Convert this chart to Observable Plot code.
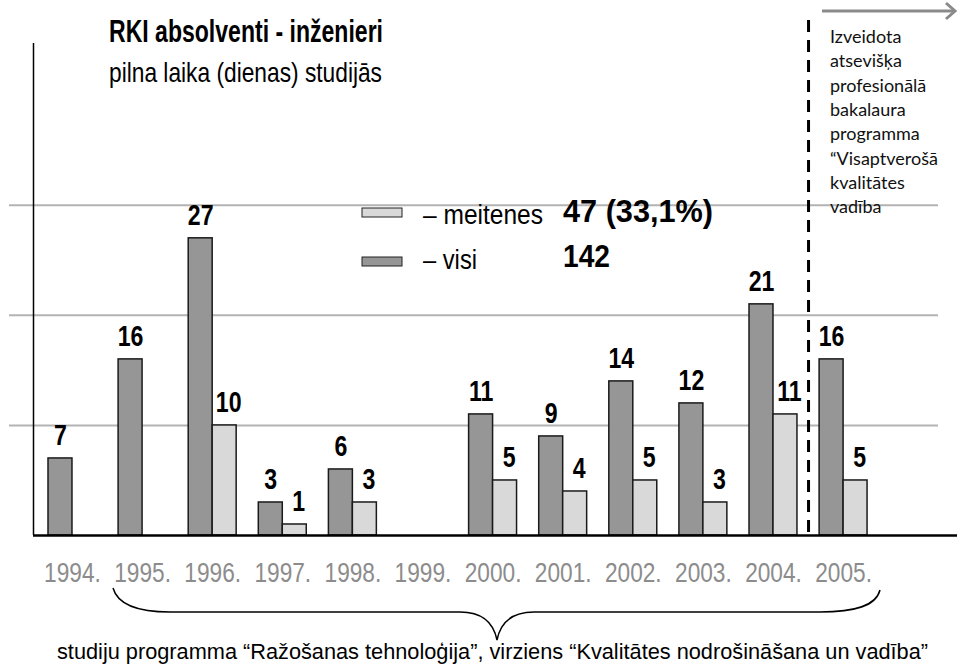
<!DOCTYPE html>
<html><head><meta charset="utf-8">
<script src="https://cdn.jsdelivr.net/npm/d3@7"></script>
<script src="https://cdn.jsdelivr.net/npm/@observablehq/plot@0.6"></script>
<style>
html,body{margin:0;padding:0;background:#fff;}
#wrap{position:relative;width:957px;height:671px;}
#wrap svg{position:absolute;left:0;top:0;}
</style></head><body>
<div id="wrap"></div>
<script>
// ---- data ----
const years = [1994, 1995, 1996, 1997, 1998, 1999, 2000, 2001, 2002, 2003, 2004, 2005];
const visi = [7, 16, 27, 3, 6, null, 11, 9, 14, 12, 21, 16];
const meitenes = [null, null, 10, 1, 3, null, 5, 4, 5, 3, 11, 5];
const yTicks = [10, 20, 30];
const divider = 2004.5;
const legendLabels = ["– meitenes", "– visi"];
const legendTotals = ["47 (33,1%)", "142"];
const titleText = "RKI absolventi - inženieri";
const subtitleText = "pilna laika (dienas) studijās";
const noteLines = ["Izveidota", "atsevišķa", "profesionālā", "bakalaura", "programma", "“Visaptverošā", "kvalitātes", "vadība"];
const captionText = "studiju programma “Ražošanas tehnoloģija”, virziens “Kvalitātes nodrošināšana un vadība”";

const data = years.map((year, i) => ({year, visi: visi[i], meitenes: meitenes[i]}));
const visiData = data.filter(d => d.visi != null);
const meitData = data.filter(d => d.meitenes != null);
const barW = 0.342;
const xDomain = [1993.444, 2006.625];
const sans = '"Liberation Sans", Arial, sans-serif';

const chart = Plot.plot({
  width: 957, height: 671,
  marginLeft: 33, marginRight: 0, marginTop: 43, marginBottom: 136,
  x: {type: "linear", domain: xDomain},
  y: {domain: [0, 44.7], axis: null},
  style: {background: "transparent", overflow: "visible"},
  marks: [
    Plot.ruleY(yTicks, {stroke: "#b3b3b3", strokeWidth: 2, insetLeft: -24, insetRight: 19}),
    Plot.rect(visiData, {x1: d => d.year - barW, x2: d => d.year, y1: () => 0, y2: "visi", fill: "#969696", stroke: "#1a1a1a", strokeWidth: 1.5}),
    Plot.rect(meitData, {x1: d => d.year, x2: d => d.year + barW, y1: () => 0, y2: "meitenes", fill: "#d9d9d9", stroke: "#1a1a1a", strokeWidth: 1.5}),
    Plot.ruleY([0], {stroke: "#000", strokeWidth: 2.5}),
    Plot.ruleX([xDomain[0]], {stroke: "#000", strokeWidth: 1.5}),
    Plot.ruleX([divider], {stroke: "#000", strokeWidth: 3, strokeDasharray: "12,8", insetTop: -23}),
    Plot.text(visiData, {x: d => d.year - barW / 2, y: "visi", text: d => String(d.visi), dy: -13, lineAnchor: "bottom", fontSize: 30, fontWeight: "bold", fontFamily: sans, fill: "#000"}),
    Plot.text(meitData, {x: d => d.year + barW / 2, y: "meitenes", text: d => String(d.meitenes), dx: 4, dy: -13, lineAnchor: "bottom", fontSize: 30, fontWeight: "bold", fontFamily: sans, fill: "#000"}),
    Plot.axisX(years, {tickFormat: d => d + ".", tickSize: 0, tickPadding: 27, fontSize: 28, fontFamily: sans, fill: "#8c8c8c", label: null})
  ]
});
document.getElementById("wrap").appendChild(chart);

// condense Arial-like text horizontally (the original uses squeezed Arial)
function squeeze(sel, k) {
  sel.each(function () {
    const t = this.getAttribute("transform") || "";
    this.setAttribute("transform", t + ` scale(${k},1)`);
  });
}
squeeze(d3.select(chart).selectAll('g[aria-label="text"] text'), 0.77);
squeeze(d3.select(chart).selectAll('g[aria-label="x-axis tick label"] text'), 0.81);

// ---- annotation overlay ----
const ov = d3.select("#wrap").append("svg").attr("width", 957).attr("height", 671).style("pointer-events", "none");
ov.append("text").attr("x", 109).attr("y", 42).attr("font-family", sans).attr("font-weight", "bold").attr("font-size", 32)
  .attr("textLength", 274).attr("lengthAdjust", "spacingAndGlyphs").text(titleText);
ov.append("text").attr("x", 109).attr("y", 82).attr("font-family", sans).attr("font-size", 28)
  .attr("textLength", 273).attr("lengthAdjust", "spacingAndGlyphs").text(subtitleText);
// legend
const lg = [{fill: "#d9d9d9", y: 208, base: 224, len: 120, tlen: 150}, {fill: "#969696", y: 257, base: 269, len: 54, tlen: 47}];
lg.forEach((l, i) => {
  ov.append("rect").attr("x", 362).attr("y", l.y).attr("width", 40).attr("height", 9).attr("fill", l.fill).attr("stroke", "#222").attr("stroke-width", 1);
  ov.append("text").attr("x", 423).attr("y", l.base).attr("font-family", sans).attr("font-size", 27)
    .attr("textLength", l.len).attr("lengthAdjust", "spacingAndGlyphs").text(legendLabels[i]);
  ov.append("text").attr("x", 563).attr("y", l.base - 2).attr("font-family", sans).attr("font-weight", "bold").attr("font-size", 31)
    .attr("textLength", l.tlen).attr("lengthAdjust", "spacingAndGlyphs").text(legendTotals[i]);
});
// note text
noteLines.forEach((t, i) => {
  ov.append("text").attr("x", 830).attr("y", 43 + i * 24.3).attr("font-family", "Lato, 'Open Sans', sans-serif").attr("font-size", 18).attr("fill", "#111").text(t);
});
// arrow
ov.append("path").attr("d", "M822,11 L955,11").attr("stroke", "#8a8a8a").attr("stroke-width", 3).attr("fill", "none");
ov.append("path").attr("d", "M946,3 L955,11 L946,19").attr("stroke", "#8a8a8a").attr("stroke-width", 3).attr("fill", "none");
// brace
ov.append("path").attr("d", "M113,588 C118,606 140,612 170,612 L460,612 C485,612 494,625 497,640 C500,625 509,612 534,612 L820,612 C855,612 876,606 880,590")
  .attr("stroke", "#000").attr("stroke-width", 1.5).attr("fill", "none");
ov.append("text").attr("x", 492.5).attr("y", 659).attr("text-anchor", "middle").attr("font-family", sans).attr("font-size", 22)
  .attr("textLength", 871).attr("lengthAdjust", "spacingAndGlyphs").text(captionText);
</script>
</body></html>
